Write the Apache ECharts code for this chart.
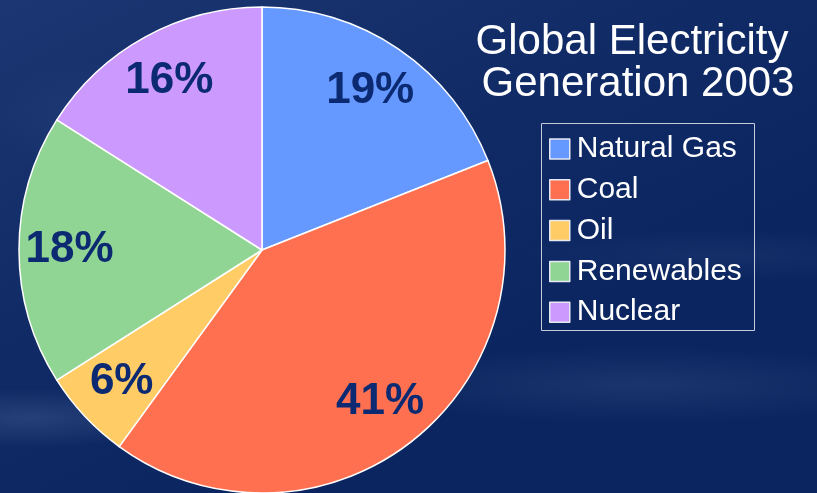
<!DOCTYPE html>
<html>
<head>
<meta charset="utf-8">
<title>Global Electricity Generation 2003</title>
<script src="https://cdn.jsdelivr.net/npm/echarts@6/dist/echarts.min.js"></script>
<style>
  html, body { margin: 0; padding: 0; background: #132d68; }
  #chart { width: 817px; height: 493px; }
</style>
</head>
<body>
<div id="chart"></div>
<script>
// Share of world electricity generation by source, 2003 (%)
const sources = ['Natural Gas', 'Coal', 'Oil', 'Renewables', 'Nuclear'];
const shares = [19, 41, 6, 18, 16];
const sliceColors = ['#6699ff', '#ff7050', '#ffcc66', '#90d594', '#cc99ff'];
const titleLines = ['Global Electricity', 'Generation 2003'];

const FONT = '"Liberation Sans", Arial, sans-serif';
const CENTER = [262, 250];
const R = 243;

const chart = echarts.init(document.getElementById('chart'), null, { renderer: 'canvas' });

const pieData = sources.map((name, i) => ({
  name,
  value: shares[i],
  itemStyle: { color: sliceColors[i] }
}));

// soft light streak in the backdrop: a radial glow stretched sideways
function haze(cx, cy, rx, ry, alpha) {
  return {
    type: 'circle',
    silent: true,
    z: -10,
    x: cx,
    y: cy,
    scaleX: rx / ry,
    shape: { cx: 0, cy: 0, r: ry },
    style: {
      fill: {
        type: 'radial', x: 0.5, y: 0.5, r: 0.5,
        colorStops: [
          { offset: 0, color: 'rgba(120,150,200,' + alpha + ')' },
          { offset: 1, color: 'rgba(120,150,200,0)' }
        ]
      }
    }
  };
}

function titleText(text, cx, top) {
  return {
    type: 'text',
    silent: true,
    x: cx,
    y: top,
    style: {
      text,
      fill: '#ffffff',
      font: '42px ' + FONT,
      align: 'center',
      verticalAlign: 'top'
    }
  };
}

chart.setOption({
  animation: false,
  backgroundColor: {
    type: 'linear', x: 0, y: 0, x2: 0.3, y2: 1,
    colorStops: [
      { offset: 0, color: '#1b3672' },
      { offset: 0.55, color: '#112b66' },
      { offset: 1, color: '#0b2560' }
    ]
  },
  legend: {
    orient: 'vertical',
    left: 549,
    top: 134,
    padding: 0,
    itemWidth: 20,
    itemHeight: 20,
    itemGap: 10.8,
    icon: 'rect',
    selectedMode: false,
    data: sources,
    itemStyle: { borderColor: '#e6e9f2', borderWidth: 1.5 },
    textStyle: {
      color: '#ffffff',
      fontFamily: FONT,
      fontSize: 30,
      lineHeight: 30,
      padding: [0, 0, 0, 2]
    }
  },
  graphic: [
    haze(30, 418, 150, 30, 0.22),
    haze(640, 385, 280, 38, 0.14),
    haze(720, 255, 200, 26, 0.09),
    haze(90, 120, 100, 60, 0.07),
    titleText(titleLines[0], 632, 21),
    titleText(titleLines[1], 638, 63),
    {
      type: 'rect',
      silent: true,
      shape: { x: 541.5, y: 123.5, width: 213, height: 207 },
      style: { fill: 'none', stroke: '#c3cbdc', lineWidth: 1 }
    }
  ],
  series: [
    {
      type: 'pie',
      center: CENTER,
      radius: [0, R],
      startAngle: 90,
      clockwise: true,
      silent: true,
      data: pieData,
      label: { show: false },
      labelLine: { show: false },
      itemStyle: { borderColor: '#ffffff', borderWidth: 1.5 }
    },
    {
      // label ring: puts the percentage text at about 78% of the radius
      type: 'pie',
      center: CENTER,
      radius: [136, R],
      startAngle: 90,
      clockwise: true,
      silent: true,
      legendHoverLink: false,
      data: pieData.map(d => ({ name: d.name, value: d.value })),
      itemStyle: { color: 'rgba(0,0,0,0)', borderWidth: 0 },
      label: {
        show: true,
        position: 'inside',
        formatter: p => p.value + '%',
        color: '#0c2a72',
        fontFamily: FONT,
        fontWeight: 'bold',
        fontSize: 44
      },
      labelLine: { show: false }
    }
  ]
});
</script>
</body>
</html>
